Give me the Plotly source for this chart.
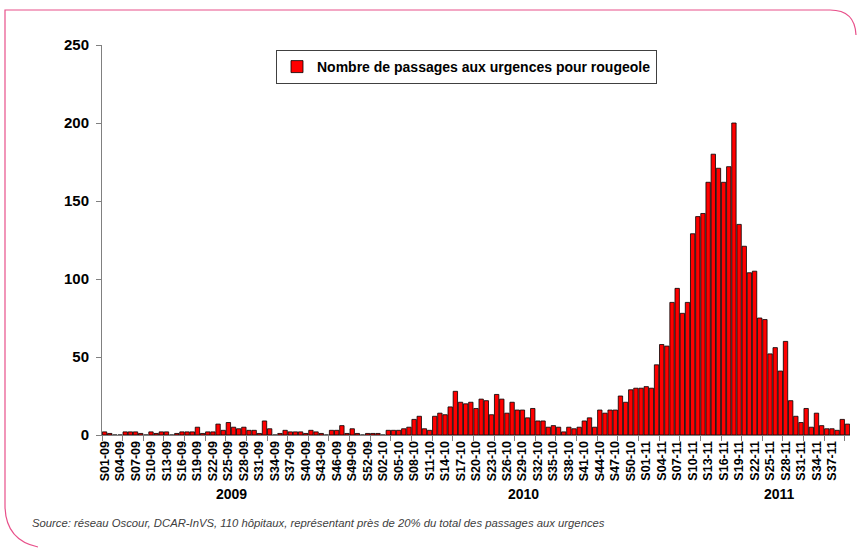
import plotly.graph_objects as go

# ---- data ----
weeks_2009 = [f"S{w:02d}-09" for w in range(1, 54)]
weeks_2010 = [f"S{w:02d}-10" for w in range(1, 53)]
weeks_2011 = [f"S{w:02d}-11" for w in range(1, 41)]

values_2009 = [2, 1, 0, 0, 2, 2, 2, 1, 0, 2, 1, 2, 2, 0, 1, 2, 2, 2, 5, 1,
               2, 2, 7, 3, 8, 5, 4, 5, 3, 3, 1, 9, 4, 0, 1, 3, 2, 2, 2, 1,
               3, 2, 1, 0, 3, 3, 6, 1, 4, 1, 0, 1, 1]
values_2010 = [1, 0, 3, 3, 3, 4, 5, 10, 12, 4, 3, 12, 14, 13, 18, 28, 21, 20, 21, 17,
               23, 22, 13, 26, 23, 14, 21, 16, 16, 11, 17, 9, 9, 5, 6, 5, 2, 5, 4, 5,
               9, 11, 5, 16, 14, 16, 16, 25, 21, 29, 30, 30]
values_2011 = [31, 30, 45, 58, 57, 85, 94, 78, 85, 129, 140, 142, 162, 180, 171, 162, 172, 200, 135, 121,
               104, 105, 75, 74, 52, 56, 41, 60, 22, 12, 8, 17, 5, 14, 6, 4, 4, 3, 10, 7]

years = ["2009", "2010", "2011"]
series_name = "Nombre de passages aux urgences pour rougeole"
source_text = ("Source: réseau Oscour, DCAR-InVS, 110 hôpitaux, représentant près de 20% "
               "du total des passages aux urgences")

weeks = weeks_2009 + weeks_2010 + weeks_2011
values = values_2009 + values_2010 + values_2011
xpos = list(range(len(weeks)))
tick_idx = xpos[0:142:3]
tick_text = [weeks[i] for i in tick_idx]

# ---- geometry helpers (pixel -> paper) ----
W, H = 858, 548
L, R, T, B = 102, 8, 45, 113
PW, PH = W - L - R, H - T - B


def px(x):
    return (x - L) / PW


def py(y):
    return (H - B - y) / PH


FONT = "Liberation Sans, Arial, sans-serif"

fig = go.Figure()
fig.add_trace(go.Bar(
    x=xpos, y=values, name=series_name, showlegend=True,
    marker=dict(color="#ff0000", line=dict(color="#000000", width=0.8)),
))

fig.update_layout(
    width=W, height=H,
    margin=dict(l=L, r=R, t=T, b=B, autoexpand=False),
    paper_bgcolor="white", plot_bgcolor="white",
    bargap=0.15,
    font=dict(family=FONT, color="#000000"),
    xaxis=dict(
        range=[-0.5, len(weeks) - 0.5], automargin=False,
        tickmode="array", tickvals=tick_idx, ticktext=tick_text,
        tickangle=-90, tickfont=dict(family=FONT, size=12.5, weight="bold"),
        ticks="", showgrid=False, zeroline=False,
        showline=True, linecolor="#808080", linewidth=1,
        minor=dict(tickmode="linear", tick0=-0.5, dtick=4, ticks="outside",
                   ticklen=5, tickcolor="#808080", showgrid=False),
    ),
    yaxis=dict(
        range=[0, 250], tickmode="linear", tick0=0, dtick=50, automargin=False,
        ticks="outside", ticklen=5, tickcolor="#808080", ticklabelstandoff=4,
        tickfont=dict(family=FONT, size=15, weight="bold"),
        showgrid=False, zeroline=False,
        showline=True, linecolor="#808080", linewidth=1,
    ),
    legend=dict(
        x=px(276), y=py(50), xanchor="left", yanchor="top",
        bordercolor="#404040", borderwidth=1, bgcolor="white",
        font=dict(family=FONT, size=14, weight="bold"),
        itemwidth=30, tracegroupgap=0,
    ),
)

# year group labels
for yr, xp in zip(years, [231, 523, 779]):
    fig.add_annotation(text=yr, x=px(xp), y=py(494), xref="paper", yref="paper",
                       xanchor="center", yanchor="middle",
                       showarrow=False, font=dict(family=FONT, size=14, weight="bold"))

# source line
fig.add_annotation(text=f"<i>{source_text}</i>", x=px(30), y=py(523), xref="paper", yref="paper",
                   xanchor="left", yanchor="middle", showarrow=False,
                   font=dict(family=FONT, size=11.3, color="#404040"))

# decorative pink frame
path = (f"M {px(38)},{py(547)} Q {px(5)},{py(540)} {px(5)},{py(505)} "
        f"L {px(5)},{py(10)} L {px(830)},{py(10)} Q {px(855)},{py(10)} {px(856)},{py(35)}")
fig.add_shape(type="path", path=path, xref="paper", yref="paper",
              line=dict(color="#e8508a", width=1.2))

fig.write_html("out.html", config={"displayModeBar": False},
               post_script="document.body.style.margin='0';document.body.style.overflow='hidden';")
